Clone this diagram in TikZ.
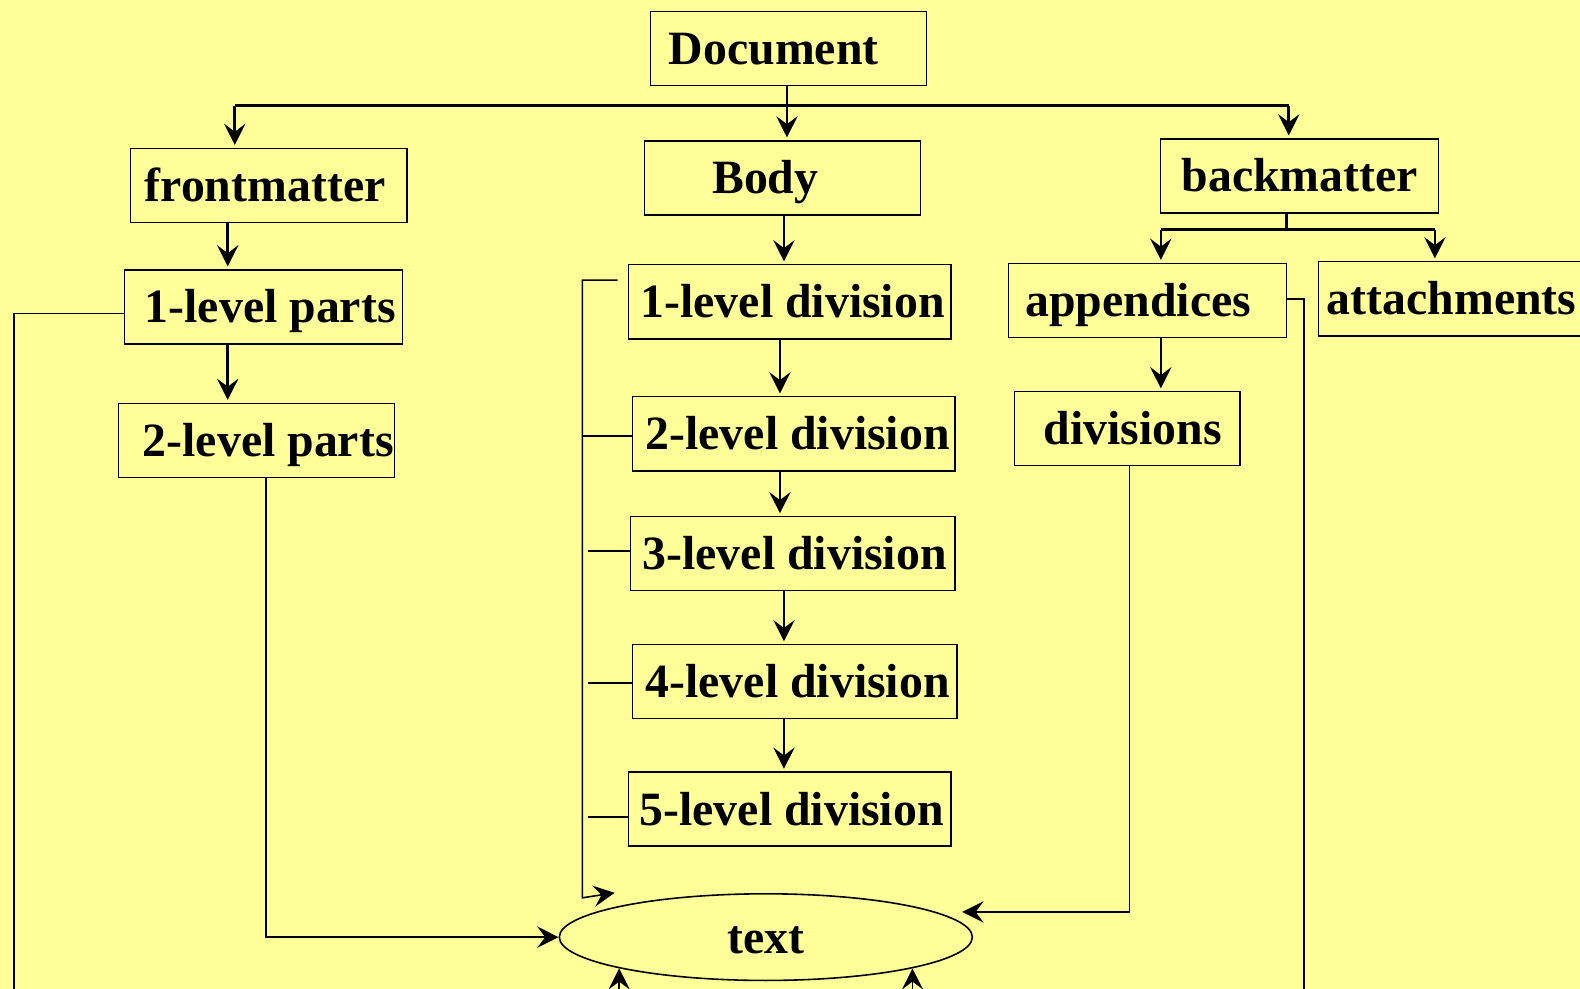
\documentclass[tikz,border=0pt]{standalone}
\usepackage{fontspec}
\setmainfont{Liberation Serif}
\usetikzlibrary{arrows.meta,shapes.geometric}
\definecolor{paper}{RGB}{255,255,153}
\newlength\pxlen
\setlength\pxlen{0.02cm}
% fixed-width box content with a left pad
\newcommand\padtext[3]{\makebox[#1\pxlen][l]{\hspace*{#2\pxlen}#3}}
\tikzset{
  big font/.style={font=\fontsize{27}{31}\selectfont\bfseries, text height=18pt, text depth=0pt},
  level box/.style={draw, line width=0.8pt, anchor=west, inner xsep=0pt, inner ysep=0pt,
    minimum height=1.47cm, big font},
  link/.style={line width=1.5pt},
  link arrow/.style={link, shorten >=1.5pt, -{Stealth[length=12pt,width=12pt,inset=4.5pt]}},
  back link/.style={line width=0.9pt},
  back arrow/.style={back link, -{Stealth[length=12pt,width=12pt,inset=4.5pt]}},
}

\begin{document}
\begin{tikzpicture}[x=0.02cm, y=-0.02cm]
  \useasboundingbox (0,0) rectangle (1568,981);
  \clip (0,0) rectangle (1568,981);
  \fill[paper] (0,0) rectangle (1568,981);
  % boxes
  \node[level box] (doc) at (645,48) {\padtext{274}{18}{Document}};
  \node[level box] (front) at (129,184) {\padtext{274}{14}{frontmatter}};
  \node[level box] (body) at (639,176.5) {\padtext{274}{67}{Body}};
  \node[level box] (back) at (1151,174.5) {\padtext{276}{21}{backmatter}};
  \node[level box] (p1) at (123,304.5) {\padtext{276}{20}{1-level parts}};
  \node[level box] (p2) at (117,437) {\padtext{274}{24}{2-level parts}};
  \node[level box] (d1) at (623,299.5) {\padtext{320}{12}{1-level division}};
  \node[level box] (d2) at (627,430.5) {\padtext{320}{13}{2-level division}};
  \node[level box] (d3) at (625,549.5) {\padtext{322}{12}{3-level division}};
  \node[level box] (d4) at (627,676.5) {\padtext{322}{13}{4-level division}};
  \node[level box] (d5) at (623,803) {\padtext{320}{11}{5-level division}};
  \node[level box] (app) at (1000,298) {\padtext{276}{17}{appendices}};
  \node[level box] (att) at (1308,296.5) {\padtext{300}{8}{attachments}};
  \node[level box] (divs) at (1006,425.5) {\padtext{224}{29}{divisions}};
  \node[draw, ellipse, line width=0.9pt, minimum width=8.2cm, minimum height=1.72cm,
    inner sep=0pt, big font] (txt) at (760,930) {text};

  % tree
  \coordinate (fork) at (781,105);
  \coordinate (forkL) at (233,105);
  \coordinate (forkR) at (1279,105);
  \draw[link] (forkL) -- (forkR);
  \draw[link arrow] (doc.south -| fork) -- (fork |- body.north);
  \draw[link arrow] (forkL) -- (forkL |- front.north);
  \draw[link arrow] (forkR) -- (forkR |- back.north);
  \draw[link arrow] (front.south -| 226,0) -- (p1.north -| 226,0);
  \draw[link arrow] (p1.south -| 226,0) -- (p2.north -| 226,0);
  \draw[link arrow] (body.south -| 778,0) -- (d1.north -| 778,0);
  \foreach \a/\b/\x in {d1/d2/774, d2/d3/774, d3/d4/778, d4/d5/778}
    \draw[link arrow] (\a.south -| \x,0) -- (\b.north -| \x,0);
  \coordinate (forkB) at (1277,228);
  \coordinate (forkBL) at (1152,228);
  \coordinate (forkBR) at (1424,228);
  \draw[link] (back.south -| forkB) -- (forkB);
  \draw[link] (forkBL) -- (forkBR);
  \draw[link arrow] (forkBL) -- (forkBL |- app.north);
  \draw[link arrow] (forkBR) -- (forkBR |- att.north);
  \draw[link arrow] (app.south -| 1152,0) -- (divs.north -| 1152,0);

  % links to text
  \coordinate (leftEnd) at (14,995);
  \coordinate (rightEnd) at (1294,995);
  \coordinate (tipA) at (610,886);
  \coordinate (tipB) at (955,905);
  \draw[back link] (p1.west |- 0,311) -| (leftEnd);
  \draw[back arrow] (p2.south -| 264,0) |- (txt.west);
  \draw[back arrow] (d1.west |- 0,278) ++(-10,0) -- (578,278) -- (578,891) -- (tipA);
  \foreach \n/\y/\s/\w in {d2/433/578/1.3pt, d3/547/584/0.9pt, d4/678/584/1.3pt, d5/811/584/1.3pt}
    \draw[line width=\w] (\n.west |- 0,\y) -- (\s,\y);
  \draw[back arrow] (divs.south -| 1121,0) |- (tipB);
  \draw[back link] (app.east |- 0,297) -| (rightEnd);
  \draw[back arrow] (txt.-168 |- 0,995) -- (txt.-168);
  \draw[back arrow] (txt.-12 |- 0,995) -- (txt.-12);
\end{tikzpicture}
\end{document}
